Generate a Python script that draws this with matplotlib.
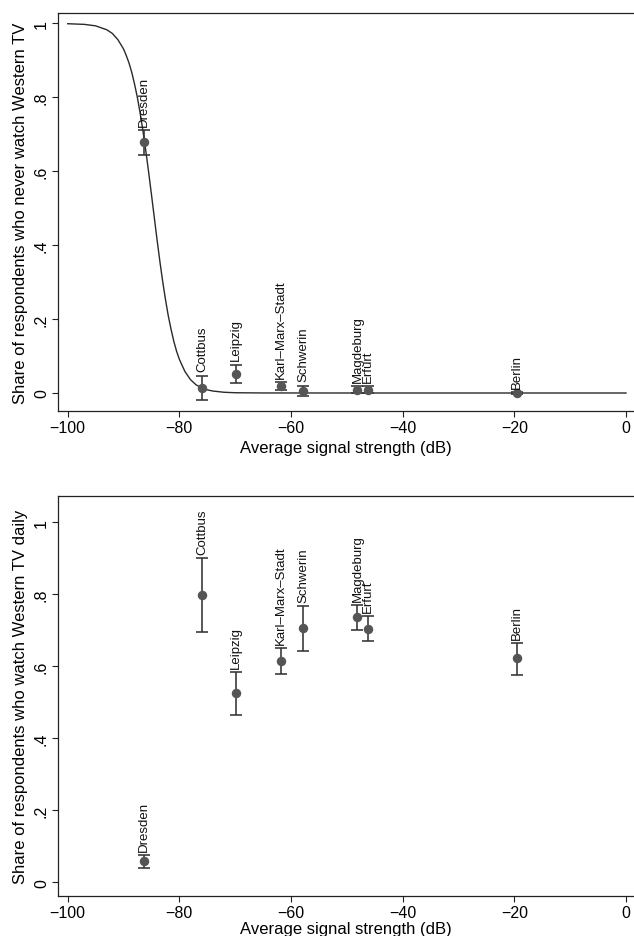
import matplotlib
matplotlib.use("Agg")
import matplotlib.pyplot as plt

plt.rcParams['font.family'] = ['Liberation Sans', 'DejaVu Sans']

# ---- data ----
cities = ["Dresden", "Cottbus", "Leipzig", "Karl–Marx–Stadt", "Schwerin",
          "Magdeburg", "Erfurt", "Berlin"]
signal = [-86.3, -75.9, -69.9, -61.8, -57.8, -48.1, -46.3, -19.5]

never_mean = [0.680, 0.014, 0.052, 0.018, 0.005, 0.009, 0.009, 0.000]
never_lo = [0.645, -0.020, 0.027, 0.007, -0.008, 0.000, 0.000, -0.002]
never_hi = [0.711, 0.047, 0.077, 0.029, 0.020, 0.018, 0.018, 0.003]

daily_mean = [0.058, 0.799, 0.526, 0.614, 0.706, 0.737, 0.704, 0.622]
daily_lo = [0.040, 0.696, 0.465, 0.579, 0.642, 0.702, 0.671, 0.576]
daily_hi = [0.076, 0.900, 0.583, 0.650, 0.768, 0.771, 0.739, 0.665]

# fitted curve (top panel)
curve_x = [-100, -97, -95, -93, -92, -91, -90, -89.5, -89, -88.5, -88, -87.5,
           -87, -86.5, -86, -85.5, -85, -84.5, -84, -83.5, -83, -82.5, -82,
           -81.5, -81, -80.5, -80, -79, -78, -77, -76, -75, -74, -72, -70,
           -65, -50, 0]
curve_y = [0.9994, 0.9976, 0.9936, 0.983, 0.973, 0.956, 0.931, 0.913, 0.892,
           0.866, 0.834, 0.798, 0.755, 0.707, 0.654, 0.597, 0.537, 0.476,
           0.415, 0.357, 0.303, 0.254, 0.210, 0.173, 0.140, 0.113, 0.091,
           0.058, 0.036, 0.022, 0.014, 0.0086, 0.0053, 0.0020, 0.0007,
           0.0001, 0.0, 0.0]

xticks = [-100, -80, -60, -40, -20, 0]
yticks = [0, 0.2, 0.4, 0.6, 0.8, 1.0]
yticklabels = ["0", ".2", ".4", ".6", ".8", "1"]

xlabel = "Average signal strength (dB)"
ylabel_top = "Share of respondents who never watch Western TV"
ylabel_bot = "Share of respondents who watch Western TV daily"

# ---- figure ----
W, H = 634, 937
fig = plt.figure(figsize=(W / 100, H / 100), dpi=100)
fig.patch.set_facecolor("white")

left = 58 / W
ax1 = fig.add_axes([left, 1 - 411.7 / H, 1 - left, (411.7 - 14) / H])
ax2 = fig.add_axes([left, 1 - 897 / H, 1 - left, (897 - 497.3) / H])

mcol = "#555555"
ecol = "#333333"
spine_col = "#222222"


def style(ax, ylim, ylab, xpad):
    ax.set_xlim(-101.74, 1.43)
    ax.set_ylim(*ylim)
    ax.spines['right'].set_visible(False)
    for s in ['left', 'bottom', 'top']:
        ax.spines[s].set_color(spine_col)
        ax.spines[s].set_linewidth(0.9)
    ax.set_xticks(xticks)
    ax.set_yticks(yticks)
    ax.set_yticklabels(yticklabels, rotation=90, va='center')
    ax.tick_params(axis='both', direction='out', length=4.5, width=0.8,
                   color=spine_col, labelsize=11.5, pad=2)
    ax.set_xlabel(xlabel, fontsize=12, labelpad=xpad)
    ax.set_ylabel(ylab, fontsize=12, labelpad=4)


def draw(ax, mean, lo, hi):
    yerr = [[m - l for m, l in zip(mean, lo)], [h - m for m, h in zip(mean, hi)]]
    ax.errorbar(signal, mean, yerr=yerr, fmt='o', color=mcol, ecolor=ecol,
                elinewidth=1.15, capsize=4.5, capthick=1.15, markersize=5.8,
                zorder=3)
    for x, h, name in zip(signal, hi, cities):
        ax.annotate(name, (x, h), xytext=(0, 3), textcoords='offset points',
                    rotation=90, ha='center', va='bottom', fontsize=9.5,
                    color='#111111', zorder=4)


ax1.plot(curve_x, curve_y, color="#2a2a2a", lw=1.0, zorder=2)
draw(ax1, never_mean, never_lo, never_hi)
style(ax1, (-0.0479, 1.0284), ylabel_top, 3.5)

draw(ax2, daily_mean, daily_lo, daily_hi)
style(ax2, (-0.038, 1.0722), ylabel_bot, 1)

fig.savefig("out.png", dpi=100)
